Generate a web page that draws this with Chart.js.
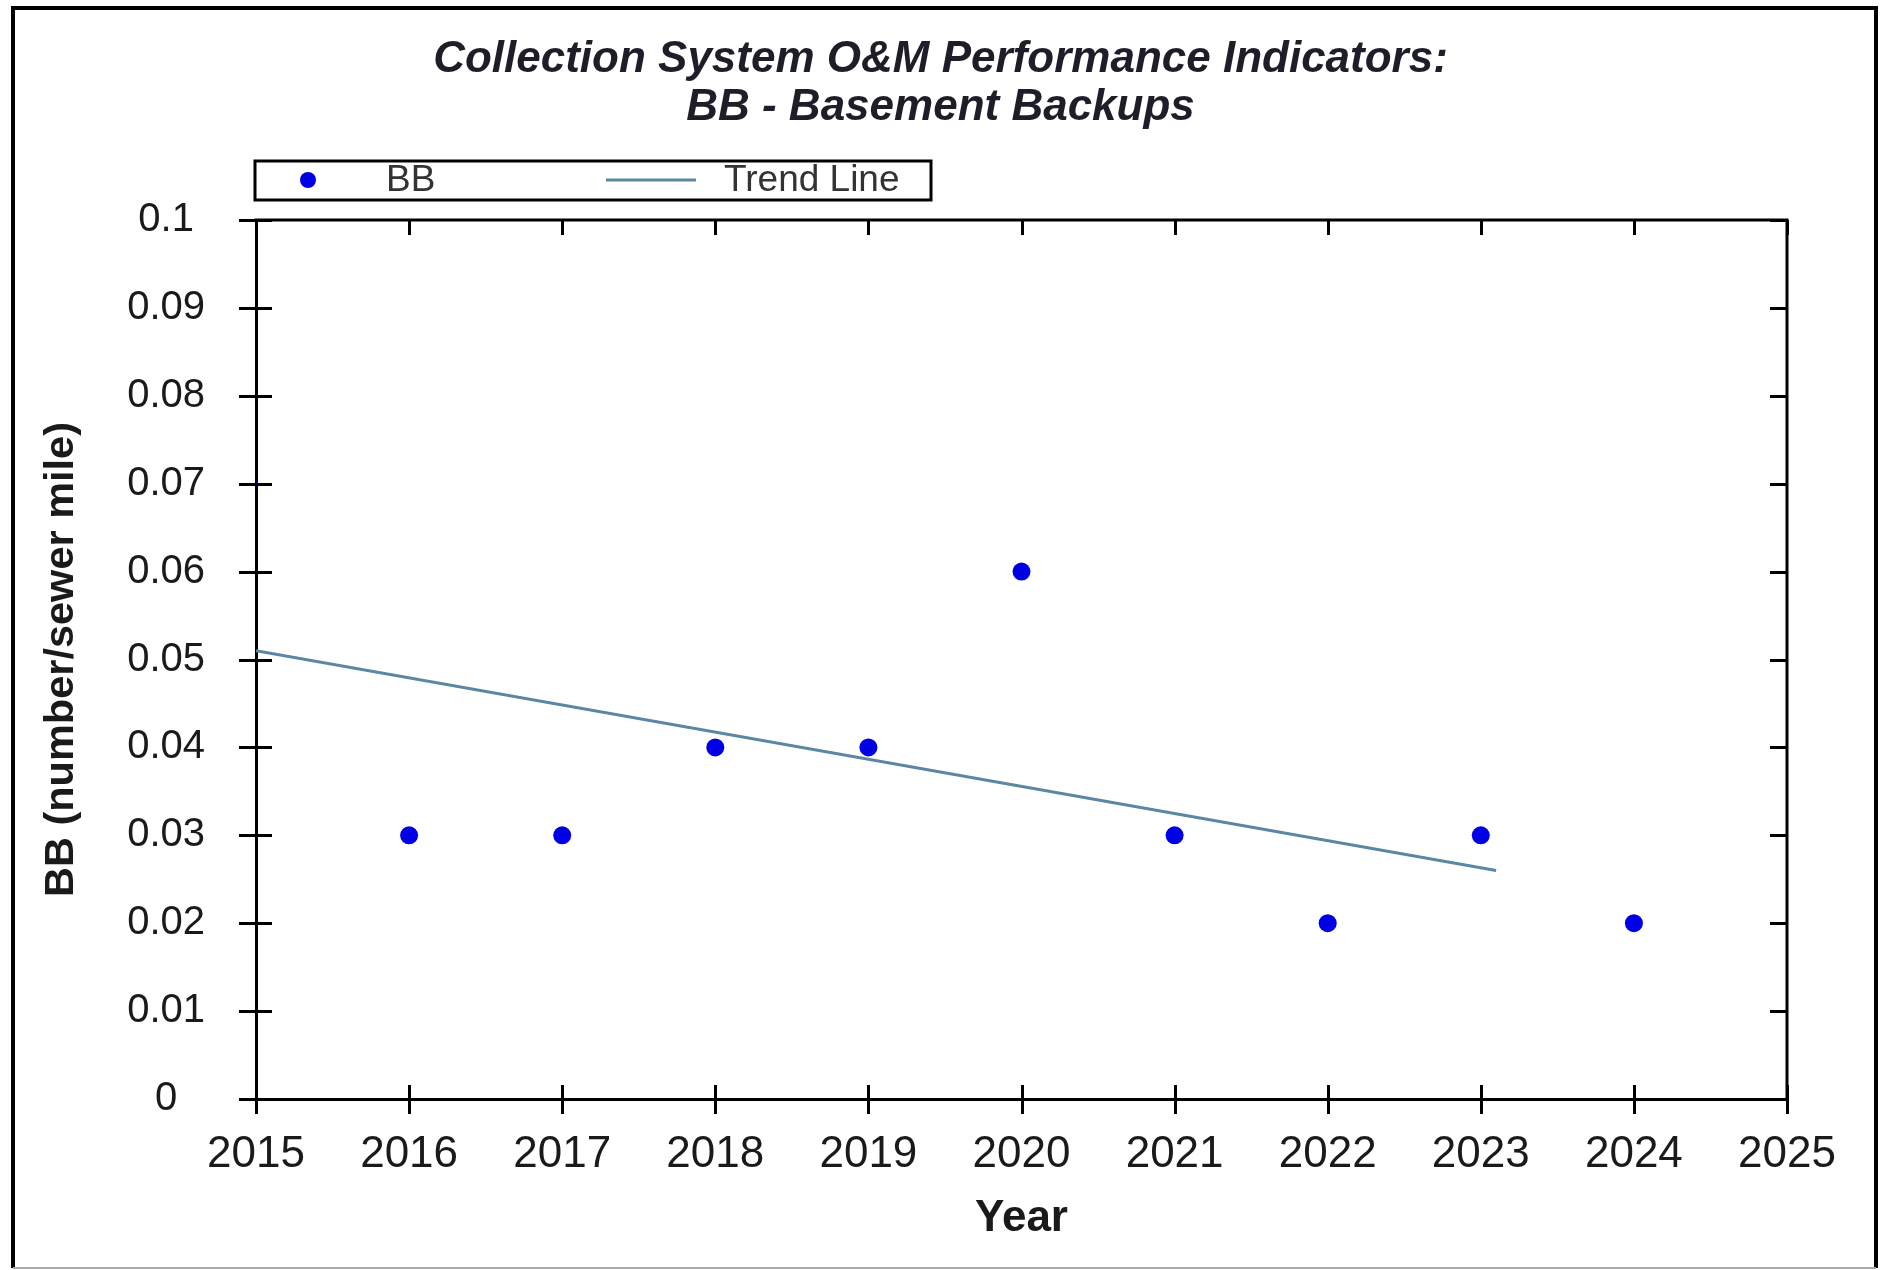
<!DOCTYPE html>
<html><head><meta charset="utf-8">
<script src="https://cdn.jsdelivr.net/npm/chart.js@4.4.1/dist/chart.umd.min.js"></script>
<style>html,body{margin:0;padding:0;background:#fff;} canvas{display:block;}</style>
</head><body>
<canvas id="c" width="1881" height="1270"></canvas>
<script>
// ---- data ----
const years = [2015, 2016, 2017, 2018, 2019, 2020, 2021, 2022, 2023, 2024];
const bbValues = [0.07, 0.03, 0.03, 0.04, 0.04, 0.06, 0.03, 0.02, 0.03, 0.02];
const trendYears = [2015, 2023.1];
const trendValues = [0.051, 0.026];
const xTickValues = [2015, 2016, 2017, 2018, 2019, 2020, 2021, 2022, 2023, 2024, 2025];
const xTickLabels = ['2015','2016','2017','2018','2019','2020','2021','2022','2023','2024','2025'];
const yTickValues = [0, 0.01, 0.02, 0.03, 0.04, 0.05, 0.06, 0.07, 0.08, 0.09, 0.1];
const yTickLabels = ['0','0.01','0.02','0.03','0.04','0.05','0.06','0.07','0.08','0.09','0.1'];
const titleLines = ['Collection System O&M Performance Indicators:', 'BB - Basement Backups'];
const xTitle = 'Year';
const yTitle = 'BB (number/sewer mile)';
const seriesNames = ['BB', 'Trend Line'];

const FONT = "'Liberation Sans', Arial, sans-serif";
const DOT = '#0000e6';
const TREND = '#5b87a3';

const frame = {
  id: 'frame',
  beforeDraw(chart) {
    const ctx = chart.ctx;
    ctx.save();
    ctx.fillStyle = '#fff';
    ctx.fillRect(0, 0, chart.width, chart.height);
    ctx.strokeStyle = '#000';
    ctx.lineWidth = 4;
    ctx.beginPath();
    ctx.moveTo(13, 1268); ctx.lineTo(13, 8); ctx.lineTo(1876, 8); ctx.lineTo(1876, 1268);
    ctx.stroke();
    ctx.strokeStyle = '#aaa';
    ctx.lineWidth = 2;
    ctx.beginPath(); ctx.moveTo(13, 1268); ctx.lineTo(1876, 1268); ctx.stroke();
    ctx.restore();
  }
};

const axisTicks = {
  id: 'axisTicks',
  afterDraw(chart) {
    const {ctx, chartArea: a, scales: {x, y}} = chart;
    ctx.save();
    ctx.strokeStyle = '#000';
    ctx.lineWidth = 3;
    ctx.beginPath();
    ctx.moveTo(a.left - 1.5, a.top); ctx.lineTo(a.right, a.top); ctx.lineTo(a.right, a.bottom + 1.5);
    ctx.stroke();
    x.ticks.forEach(t => {
      const px = Math.round(x.getPixelForValue(t.value)) + 0.5;
      ctx.beginPath(); ctx.moveTo(px, a.bottom - 14); ctx.lineTo(px, a.bottom + 15); ctx.stroke();
      ctx.beginPath(); ctx.moveTo(px, a.top); ctx.lineTo(px, a.top + 15); ctx.stroke();
    });
    y.ticks.forEach(t => {
      const py = Math.round(y.getPixelForValue(t.value)) + 0.5;
      ctx.beginPath(); ctx.moveTo(a.left - 17, py); ctx.lineTo(a.left + 16, py); ctx.stroke();
      ctx.beginPath(); ctx.moveTo(a.right - 17, py); ctx.lineTo(a.right, py); ctx.stroke();
    });
    ctx.restore();
  }
};

const boxLegend = {
  id: 'boxLegend',
  afterDraw(chart) {
    const ctx = chart.ctx;
    const ds = chart.data.datasets;
    ctx.save();
    ctx.fillStyle = '#fff';
    ctx.fillRect(255, 161, 676, 39);
    ctx.strokeStyle = '#000';
    ctx.lineWidth = 3;
    ctx.strokeRect(255, 161, 676, 39);
    ctx.fillStyle = ds[0].backgroundColor;
    ctx.beginPath(); ctx.arc(308, 180, 8, 0, Math.PI * 2); ctx.fill();
    ctx.strokeStyle = ds[1].borderColor;
    ctx.lineWidth = 3;
    ctx.beginPath(); ctx.moveTo(606, 180); ctx.lineTo(696, 180); ctx.stroke();
    ctx.fillStyle = '#333';
    ctx.font = '37px ' + FONT;
    ctx.textBaseline = 'middle';
    ctx.textAlign = 'left';
    ctx.fillText(ds[0].label, 386, 181);
    ctx.fillText(ds[1].label, 724, 181);
    ctx.restore();
  }
};

new Chart(document.getElementById('c'), {
  type: 'scatter',
  data: {
    datasets: [
      {
        label: seriesNames[0],
        data: years.map((yr, i) => ({x: yr, y: bbValues[i]})),
        backgroundColor: DOT,
        borderColor: DOT,
        borderWidth: 0,
        pointRadius: bbValues.map((v, i) => i === 0 ? 2 : 9),
        pointHoverRadius: bbValues.map((v, i) => i === 0 ? 2 : 9),
        showLine: false,
        order: 1
      },
      {
        label: seriesNames[1],
        type: 'line',
        data: trendYears.map((yr, i) => ({x: yr, y: trendValues[i]})),
        borderColor: TREND,
        backgroundColor: TREND,
        borderWidth: 3,
        pointRadius: 0,
        showLine: true,
        fill: false,
        tension: 0,
        order: 2
      }
    ]
  },
  options: {
    responsive: false,
    animation: false,
    devicePixelRatio: 1,
    layout: {padding: {left: 0, right: 0, top: 0, bottom: 0}},
    plugins: {
      legend: {display: false},
      tooltip: {enabled: false},
      title: {
        display: true,
        text: titleLines,
        color: '#1e1e28',
        font: {family: FONT, size: 44, weight: 'bold', style: 'italic', lineHeight: 1.08},
        padding: {top: 36.2, bottom: 88.8}
      }
    },
    scales: {
      x: {
        type: 'linear', position: 'bottom', min: 2015, max: 2025,
        afterBuildTicks: s => { s.ticks = xTickValues.map(v => ({value: v})); },
        afterFit: s => { s.height = 171; },
        ticks: {
          callback: (v, i) => xTickLabels[i],
          color: '#1a1a1a',
          font: {family: FONT, size: 44, lineHeight: 1.2},
          padding: 29, maxRotation: 0, minRotation: 0, autoSkip: false
        },
        grid: {display: true, drawOnChartArea: false, drawTicks: false, color: '#000'},
        border: {display: true, color: '#000', width: 3},
        title: {
          display: true, text: xTitle, color: '#1a1a1a',
          font: {family: FONT, size: 44, weight: 'bold', lineHeight: 1.2},
          padding: {top: 9, bottom: 25}
        }
      },
      y: {
        type: 'linear', position: 'left', min: 0, max: 0.1,
        afterBuildTicks: s => { s.ticks = yTickValues.map(v => ({value: v})); },
        afterFit: s => { s.width = 256; },
        ticks: {
          callback: (v, i) => yTickLabels[i],
          color: '#1a1a1a',
          crossAlign: 'center',
          font: {family: FONT, size: 40, lineHeight: 1.2},
          padding: 51
        },
        grid: {display: true, drawOnChartArea: false, drawTicks: false, color: '#000'},
        border: {display: true, color: '#000', width: 3},
        title: {
          display: true, text: yTitle, color: '#1a1a1a',
          font: {family: FONT, size: 41.5, weight: 'bold', lineHeight: 1.2},
          padding: {top: 37, bottom: 0}
        }
      },
      y2: {
        type: 'linear', position: 'right', min: 0, max: 0.1,
        afterFit: s => { s.width = 94; },
        ticks: {display: false},
        grid: {display: false, drawOnChartArea: false, drawTicks: false},
        border: {display: false}
      }
    }
  },
  plugins: [frame, axisTicks, boxLegend]
});
</script>
</body></html>
